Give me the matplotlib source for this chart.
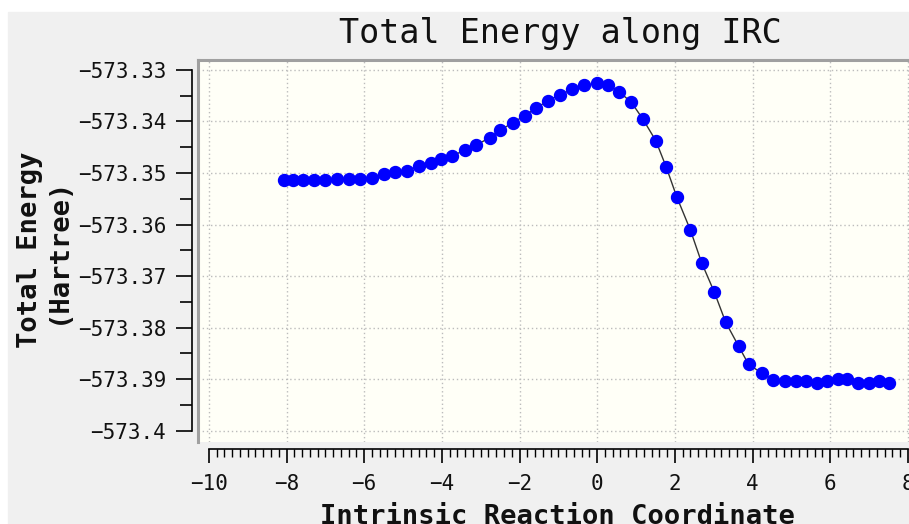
import matplotlib.pyplot as plt
from matplotlib.patches import Rectangle
from matplotlib.lines import Line2D

# IRC points
irc_x = [-8.07, -7.83, -7.57, -7.30, -7.01, -6.71, -6.39, -6.11, -5.81, -5.49,
         -5.20, -4.91, -4.59, -4.28, -4.01, -3.73, -3.41, -3.11, -2.77, -2.49,
         -2.17, -1.87, -1.58, -1.27, -0.97, -0.64, -0.35, 0.00, 0.28, 0.56,
         0.88, 1.18, 1.51, 1.78, 2.05, 2.40, 2.69, 3.02, 3.31, 3.64,
         3.90, 4.25, 4.53, 4.83, 5.12, 5.39, 5.65, 5.92, 6.20, 6.44,
         6.72, 7.00, 7.26, 7.51]
energy = [-573.35136, -573.35136, -573.35136, -573.35136, -573.35136, -573.35111,
          -573.35111, -573.35111, -573.35097, -573.35019, -573.34986, -573.34955,
          -573.34864, -573.34812, -573.34734, -573.34670, -573.34553, -573.34456,
          -573.34315, -573.34165, -573.34023, -573.33887, -573.33744, -573.33596,
          -573.33485, -573.33375, -573.33297, -573.33258, -573.33291, -573.33421,
          -573.33627, -573.33957, -573.34373, -573.34889, -573.35466, -573.36107,
          -573.36742, -573.37320, -573.37899, -573.38359, -573.38718, -573.38889,
          -573.39019, -573.39045, -573.39045, -573.39045, -573.39083, -573.39039,
          -573.38994, -573.38994, -573.39083, -573.39083, -573.39039, -573.39078]

y_ticks = [-573.40, -573.39, -573.38, -573.37, -573.36, -573.35, -573.34, -573.33]
y_tick_labels = ['\u2212573.4', '\u2212573.39', '\u2212573.38', '\u2212573.37',
                 '\u2212573.36', '\u2212573.35', '\u2212573.34', '\u2212573.33']
y_minor = [-573.395, -573.385, -573.375, -573.365, -573.355, -573.345, -573.335]
x_ticks = [-10, -8, -6, -4, -2, 0, 2, 4, 6, 8]
x_tick_labels = ['\u221210', '\u22128', '\u22126', '\u22124', '\u22122', '0', '2', '4', '6', '8']
x_minor = [-10 + 0.2 * i for i in range(91)]

W, H = 909, 524
mono = 'DejaVu Sans Mono'

fig = plt.figure(figsize=(W / 100, H / 100), dpi=100, facecolor='white')
fig.patches.append(Rectangle((8 / W, 0), (W - 8) / W, (H - 12) / H,
                             transform=fig.transFigure, color='#f0f0f0', zorder=-10))

ax = fig.add_axes([198 / W, 82 / H, 711 / W, 382 / H])
ax.set_facecolor('#fffff7')

ax.plot(irc_x, energy, color='#333333', lw=1, zorder=3)
ax.plot(irc_x, energy, 'o', color='#0000ff', markersize=8.6, zorder=4)

ax.set_xlim(-10.28, 8.03)
ax.set_ylim(-573.40223, -573.32806)

# spines: grey frame on top/left, separate axis lines below/left
ax.spines['top'].set_color('#a0a0a0')
ax.spines['top'].set_linewidth(2.2)
ax.spines['right'].set_visible(False)
ax.add_line(Line2D([0, 0], [0, 1], transform=ax.transAxes, color='#a0a0a0',
                   lw=2.2, clip_on=False, zorder=5))
ax.spines['left'].set_position(('outward', 4.3))
ax.spines['left'].set_bounds(-573.40, -573.33)
ax.spines['left'].set_linewidth(1.2)
ax.spines['bottom'].set_position(('outward', 5))
ax.spines['bottom'].set_bounds(-10, 8)
ax.spines['bottom'].set_linewidth(1.2)

ax.set_yticks(y_ticks)
ax.set_yticklabels(y_tick_labels)
ax.set_yticks(y_minor, minor=True)
ax.set_xticks(x_ticks)
ax.set_xticklabels(x_tick_labels)
ax.set_xticks(x_minor, minor=True)

ax.tick_params(axis='y', which='major', direction='out', length=11.5, width=1.2, pad=7)
ax.tick_params(axis='y', which='minor', direction='out', length=8.5, width=1.2)
ax.tick_params(axis='x', which='major', direction='out', length=10, width=1.2, pad=8)
ax.tick_params(axis='x', which='minor', direction='out', length=6, width=1)
for lab in ax.get_xticklabels() + ax.get_yticklabels():
    lab.set_fontfamily(mono)
    lab.set_fontsize(15)
    lab.set_color('#111111')

ax.grid(True, which='major', color='#bcbcbc', linestyle=(0, (1, 2)), lw=1)
ax.set_axisbelow(True)

fig.text(560 / W, (H - 33) / H, 'Total Energy along IRC', ha='center', va='center',
         fontsize=24, family=mono, color='#111111')
fig.text(557 / W, 0, 'Intrinsic Reaction Coordinate', ha='center', va='baseline',
         fontsize=19.5, family=mono, fontweight='bold', color='#111111')
fig.text(44 / W, (H - 250) / H, 'Total Energy\n(Hartree)', ha='center', va='center',
         rotation=90, fontsize=19.5, family=mono, fontweight='bold',
         multialignment='center', linespacing=1.1, color='#111111')

fig.savefig('out.png', dpi=100, facecolor=fig.get_facecolor())
